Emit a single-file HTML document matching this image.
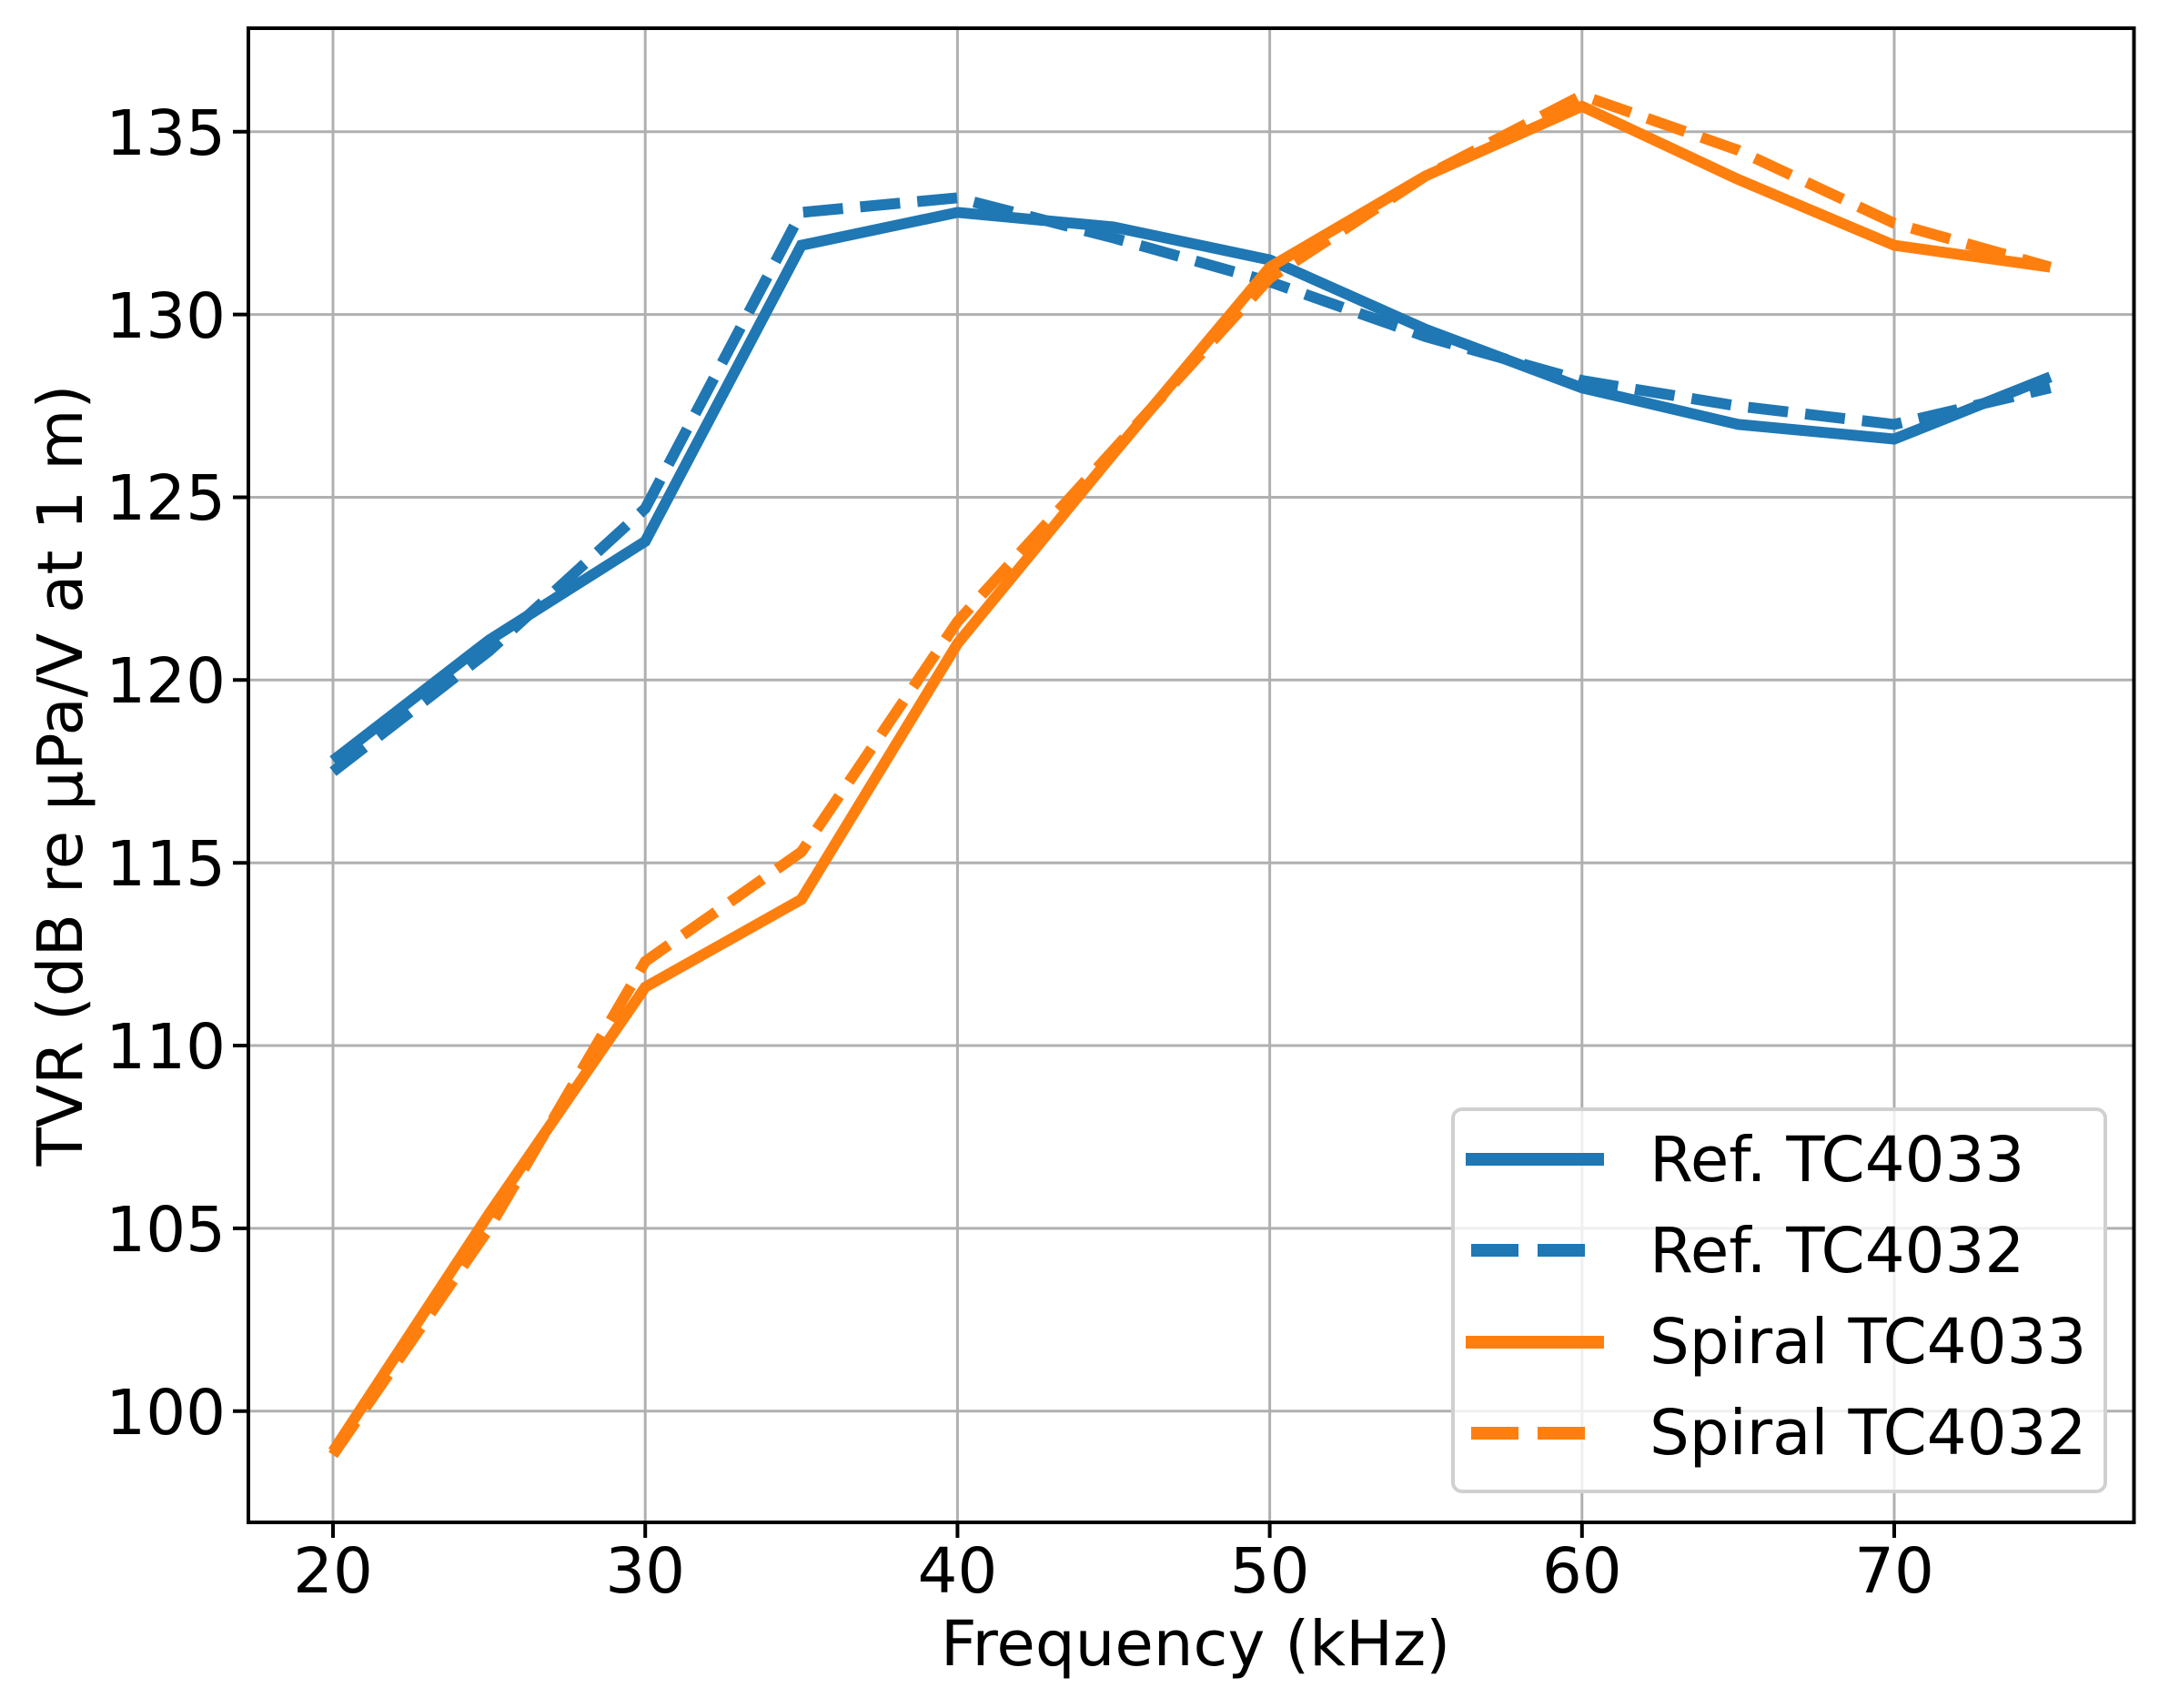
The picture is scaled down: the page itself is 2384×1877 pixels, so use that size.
<!DOCTYPE html>
<html><head><meta charset="utf-8"><style>html,body{margin:0;padding:0;background:#fff}svg{display:block}</style></head>
<body>
<svg xmlns="http://www.w3.org/2000/svg" width="2384" height="1877" viewBox="0 0 2384 1877" font-family="DejaVu Sans, Liberation Sans, sans-serif">
<rect width="2384" height="1877" fill="#fff"/>
<g stroke="#b0b0b0" stroke-width="3">
<line x1="366" y1="31" x2="366" y2="1673"/><line x1="709.2" y1="31" x2="709.2" y2="1673"/><line x1="1052.4" y1="31" x2="1052.4" y2="1673"/><line x1="1395.6" y1="31" x2="1395.6" y2="1673"/><line x1="1738.8" y1="31" x2="1738.8" y2="1673"/><line x1="2082" y1="31" x2="2082" y2="1673"/>
<line x1="273" y1="1550.7" x2="2345" y2="1550.7"/><line x1="273" y1="1349.9" x2="2345" y2="1349.9"/><line x1="273" y1="1149" x2="2345" y2="1149"/><line x1="273" y1="948.2" x2="2345" y2="948.2"/><line x1="273" y1="747.3" x2="2345" y2="747.3"/><line x1="273" y1="546.5" x2="2345" y2="546.5"/><line x1="273" y1="345.6" x2="2345" y2="345.6"/><line x1="273" y1="144.8" x2="2345" y2="144.8"/>
</g>
<g fill="none" stroke-width="12" stroke-linejoin="miter" stroke-linecap="butt">
<polyline stroke="#1f77b4" points="366,835.9 537.6,703.4 709.2,594.9 880.8,269.6 1052.4,233.4 1224,249.5 1395.6,285.6 1567.2,362 1738.8,426.2 1910.4,466.4 2082,482.5 2253.6,414.2"/>
<polyline stroke="#1f77b4" stroke-dasharray="44,19" points="366,848 537.6,715.4 709.2,558.8 880.8,233.4 1052.4,217.4 1224,261.5 1395.6,309.7 1567.2,370 1738.8,418.2 1910.4,446.3 2082,466.4 2253.6,426.2"/>
<polyline stroke="#ff7f0e" points="366,1594.9 537.6,1333.8 709.2,1084.8 880.8,988.4 1052.4,707.2 1224,498.3 1395.6,293.6 1567.2,193.2 1738.8,116.8 1910.4,197.2 2082,269.6 2253.6,293.6"/>
<polyline stroke="#ff7f0e" stroke-dasharray="44,19" points="366,1598.9 537.6,1349.9 709.2,1056.6 880.8,936.2 1052.4,683.1 1224,494.3 1395.6,305.6 1567.2,193.2 1738.8,104.8 1910.4,165.1 2082,245.4 2253.6,293.6"/>
</g>
<rect x="273" y="31" width="2072.5" height="1642" fill="none" stroke="#000" stroke-width="4"/>
<g stroke="#000" stroke-width="4">
<line x1="366" y1="1673" x2="366" y2="1690"/><line x1="709.2" y1="1673" x2="709.2" y2="1690"/><line x1="1052.4" y1="1673" x2="1052.4" y2="1690"/><line x1="1395.6" y1="1673" x2="1395.6" y2="1690"/><line x1="1738.8" y1="1673" x2="1738.8" y2="1690"/><line x1="2082" y1="1673" x2="2082" y2="1690"/>
<line x1="256" y1="1550.7" x2="273" y2="1550.7"/><line x1="256" y1="1349.9" x2="273" y2="1349.9"/><line x1="256" y1="1149" x2="273" y2="1149"/><line x1="256" y1="948.2" x2="273" y2="948.2"/><line x1="256" y1="747.3" x2="273" y2="747.3"/><line x1="256" y1="546.5" x2="273" y2="546.5"/><line x1="256" y1="345.6" x2="273" y2="345.6"/><line x1="256" y1="144.8" x2="273" y2="144.8"/>
</g>
<g font-size="69" fill="#000" text-anchor="middle">
<text x="366" y="1750">20</text><text x="709.2" y="1750">30</text><text x="1052.4" y="1750">40</text><text x="1395.6" y="1750">50</text><text x="1738.8" y="1750">60</text><text x="2082" y="1750">70</text>
</g>
<g font-size="69" fill="#000" text-anchor="end">
<text x="248" y="1576">100</text><text x="248" y="1375">105</text><text x="248" y="1174">110</text><text x="248" y="973">115</text><text x="248" y="772">120</text><text x="248" y="571">125</text><text x="248" y="371">130</text><text x="248" y="170">135</text>
</g>
<text x="1314" y="1830" font-size="69" text-anchor="middle">Frequency (kHz)</text>
<text transform="translate(90,852) rotate(-90)" font-size="69" text-anchor="middle">TVR (dB re µPa/V at 1 m)</text>
<rect x="1597" y="1219" width="717" height="420" rx="10" fill="#fff" fill-opacity="0.8" stroke="#d0d0d0" stroke-width="4"/>
<g stroke-width="14">
<line x1="1611" y1="1274" x2="1763" y2="1274" stroke="#1f77b4"/>
<line x1="1617" y1="1374" x2="1763" y2="1374" stroke="#1f77b4" stroke-dasharray="52,21"/>
<line x1="1611" y1="1475" x2="1763" y2="1475" stroke="#ff7f0e"/>
<line x1="1617" y1="1575" x2="1763" y2="1575" stroke="#ff7f0e" stroke-dasharray="52,21"/>
</g>
<g font-size="69" fill="#000">
<text x="1813" y="1298">Ref. TC4033</text>
<text x="1813" y="1398">Ref. TC4032</text>
<text x="1813" y="1498">Spiral TC4033</text>
<text x="1813" y="1598">Spiral TC4032</text>
</g>
</svg>
</body></html>
